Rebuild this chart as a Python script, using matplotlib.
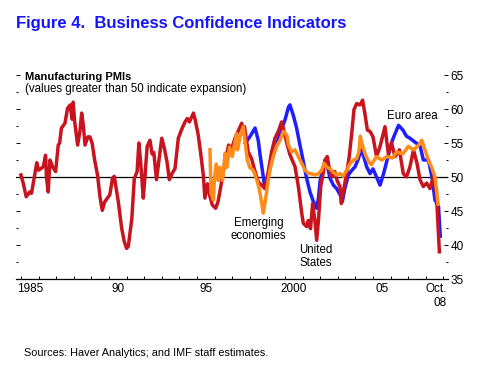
import numpy as np
import matplotlib
matplotlib.use('Agg')
import matplotlib.pyplot as plt
from matplotlib.ticker import FixedLocator

plt.rcParams['font.family'] = ['Liberation Sans', 'DejaVu Sans']

# United States (red)
us_t = [1985.0, 1985.13, 1985.3, 1985.5, 1985.6, 1985.75, 1985.9, 1986.0, 1986.27, 1986.4,
        1986.45, 1986.55, 1986.65, 1986.8, 1986.97, 1987.12, 1987.2, 1987.3, 1987.5, 1987.65,
        1987.8, 1987.9, 1987.97, 1988.05, 1988.22, 1988.35, 1988.45, 1988.55, 1988.64, 1988.8,
        1988.92, 1989.05, 1989.2, 1989.35, 1989.5, 1989.62, 1989.75, 1990.05, 1990.2, 1990.3,
        1990.53, 1990.72, 1990.87, 1991.0, 1991.1, 1991.3, 1991.44, 1991.6, 1991.7, 1991.8,
        1991.95, 1992.05, 1992.17, 1992.33, 1992.45, 1992.55, 1992.7, 1992.85, 1993.0, 1993.15,
        1993.3, 1993.43, 1993.6, 1993.75, 1993.94, 1994.1, 1994.32, 1994.45, 1994.57, 1994.8,
        1994.9, 1995.07, 1995.2, 1995.36, 1995.45, 1995.6, 1995.73, 1995.87, 1996.06, 1996.2,
        1996.4, 1996.6, 1996.8, 1996.97, 1997.16, 1997.35, 1997.54, 1997.6, 1997.7, 1997.91,
        1998.1, 1998.3, 1998.48, 1998.67, 1998.86, 1999.05, 1999.24, 1999.43, 1999.62, 1999.81,
        1999.9, 2000.1, 2000.28, 2000.57, 2000.76, 2000.95, 2001.04, 2001.23, 2001.32, 2001.45,
        2001.57, 2001.7, 2001.8, 2001.9, 2002.03, 2002.18, 2002.27, 2002.4, 2002.5, 2002.65,
        2002.83, 2002.96, 2003.12, 2003.2, 2003.33, 2003.5, 2003.65, 2003.79, 2003.92, 2004.07,
        2004.26, 2004.41, 2004.54, 2004.68, 2004.83, 2005.0, 2005.2, 2005.4, 2005.68, 2005.87,
        2006.05, 2006.25, 2006.5, 2006.72, 2006.9, 2007.1, 2007.3, 2007.5, 2007.67, 2007.86,
        2008.05, 2008.24, 2008.43, 2008.6, 2008.68, 2008.77]
us_v = [50.3, 49.1, 47.1, 47.8, 47.6, 49.8, 52.1, 51.0, 51.5, 53.2,
        50.0, 47.8, 52.5, 51.5, 50.8, 54.7, 55.0, 57.2, 57.9, 60.1,
        60.6, 58.5, 61.0, 58.2, 54.7, 56.7, 59.4, 57.5, 54.7, 55.9,
        55.9, 54.9, 52.3, 50.3, 46.9, 45.1, 46.3, 47.4, 49.8, 50.1,
        46.4, 42.5, 40.5, 39.5, 39.8, 43.9, 49.8, 50.8, 55.0, 52.2,
        46.9, 50.2, 54.5, 55.4, 53.4, 53.6, 49.6, 52.7, 55.7, 54.2,
        52.2, 49.6, 50.6, 51.2, 55.7, 56.8, 58.1, 58.6, 58.1, 59.4,
        58.4, 56.2, 53.7, 50.3, 46.9, 49.0, 47.2, 45.9, 45.4, 46.4,
        49.3, 52.3, 54.7, 54.2, 55.7, 56.8, 57.9, 57.2, 57.4, 53.7,
        52.7, 50.8, 49.3, 48.8, 48.3, 50.8, 53.7, 55.7, 56.7, 58.1,
        57.2, 55.0, 53.3, 51.5, 48.6, 44.7, 43.2, 42.7, 43.6, 42.4,
        46.1, 43.6, 40.7, 43.6, 48.6, 50.7, 52.5, 53.0, 51.5, 50.05,
        50.8, 49.5, 48.6, 46.1, 48.1, 50.5, 53.0, 56.4, 59.9, 60.8,
        60.6, 61.3, 59.3, 56.9, 56.7, 55.9, 53.0, 54.5, 57.4, 53.4,
        55.0, 53.0, 54.0, 50.5, 50.0, 51.5, 54.0, 52.0, 49.6, 48.6,
        49.1, 48.3, 50.0, 47.6, 43.6, 39.0]

# Euro area (blue)
euro_t = [1997.75, 1998.0, 1998.3, 1998.48, 1998.6, 1998.77, 1998.86, 1999.05, 1999.24, 1999.43,
          1999.72, 2000.0, 2000.2, 2000.28, 2000.47, 2000.66, 2000.85, 2001.04, 2001.23, 2001.42,
          2001.61, 2001.8, 2001.9, 2001.99, 2002.1, 2002.27, 2002.42, 2002.56, 2002.75, 2002.93,
          2003.13, 2003.26, 2003.4, 2003.6, 2003.8, 2003.98, 2004.17, 2004.32, 2004.45, 2004.64,
          2004.83, 2005.0, 2005.2, 2005.4, 2005.6, 2005.8, 2006.1, 2006.45, 2006.7, 2006.9,
          2007.1, 2007.3, 2007.5, 2007.68, 2007.86, 2008.15, 2008.35, 2008.52, 2008.72, 2008.82]
euro_v = [55.0, 55.9, 57.2, 55.4, 53.0, 50.0, 48.3, 50.0, 52.5, 54.0,
          56.4, 58.4, 60.3, 60.6, 59.1, 57.2, 54.7, 52.3, 49.8, 47.8,
          46.4, 45.4, 46.9, 49.3, 50.8, 52.3, 51.5, 49.8, 48.8, 48.3,
          47.4, 46.4, 48.3, 50.3, 51.0, 51.5, 52.7, 54.0, 53.2, 51.5,
          50.5, 51.2, 50.0, 48.8, 50.5, 52.5, 55.4, 57.6, 56.9, 56.0,
          55.7, 55.3, 54.9, 54.5, 52.5, 52.5, 50.0, 46.6, 45.7, 41.3]

# Emerging economies (orange)
em_t = [1995.74, 1995.8, 1995.93, 1996.0, 1996.1, 1996.2, 1996.3, 1996.45, 1996.6, 1996.7,
        1996.85, 1997.0, 1997.25, 1997.3, 1997.45, 1997.63, 1997.7, 1997.86, 1998.0, 1998.2,
        1998.4, 1998.55, 1998.68, 1998.77, 1998.86, 1999.0, 1999.14, 1999.33, 1999.52, 1999.72,
        1999.9, 2000.1, 2000.2, 2000.38, 2000.57, 2000.76, 2000.95, 2001.14, 2001.32, 2001.5,
        2001.7, 2001.9, 2002.08, 2002.23, 2002.36, 2002.56, 2002.75, 2002.93, 2003.13, 2003.3,
        2003.5, 2003.7, 2003.9, 2004.07, 2004.2, 2004.28, 2004.36, 2004.55, 2004.74, 2004.9,
        2005.2, 2005.5, 2005.8, 2006.1, 2006.35, 2006.7, 2007.0, 2007.3, 2007.6, 2007.77,
        2007.95, 2008.15, 2008.35, 2008.52, 2008.6, 2008.7]
em_v = [54.0, 47.7, 46.6, 50.0, 51.9, 49.5, 51.4, 49.5, 53.5, 51.4,
        54.4, 53.0, 56.4, 54.0, 55.9, 57.4, 55.9, 52.5, 51.4, 51.0,
        49.6, 48.1, 46.1, 44.7, 46.1, 48.6, 51.0, 53.0, 54.5, 55.4,
        56.7, 56.2, 54.7, 53.7, 54.0, 53.0, 52.0, 51.0, 50.5, 50.5,
        50.3, 50.5, 51.0, 52.0, 51.5, 51.2, 50.7, 50.3, 50.5, 50.1,
        51.0, 52.0, 52.5, 52.7, 53.7, 56.0, 55.0, 53.4, 52.3, 51.8,
        53.0, 52.5, 53.0, 52.8, 53.7, 53.4, 54.5, 54.0, 54.7, 55.4,
        54.0, 52.5, 51.3, 50.0, 48.3, 46.0]

tick_pos = [1985.5, 1990.5, 1995.5, 2000.5, 2005.5, 2009.2]
tick_labels = ['1985', '90', '95', '2000', '05', 'Oct.\n08']

RED = '#C8141E'
BLUE = '#1E1EFF'
ORANGE = '#FF8C1A'

fig = plt.figure(figsize=(4.83, 3.80), dpi=100)
ax = fig.add_axes([16 / 483, 1 - 279 / 380, (448 - 16) / 483, (279 - 75) / 380])

ax.axhline(50, color='black', lw=0.9, zorder=1)
ax.plot(euro_t, euro_v, color=BLUE, lw=2.5, zorder=2)
ax.plot(us_t, us_v, color=RED, lw=2.5, zorder=3)
ax.plot(em_t, em_v, color=ORANGE, lw=2.5, zorder=4)

ax.set_xlim(1984.72, 2009.26)
ax.set_ylim(35, 65)

for s in ['top', 'left', 'right']:
    ax.spines[s].set_visible(False)
ax.spines['bottom'].set_linewidth(0.9)

ax.xaxis.set_major_locator(FixedLocator(tick_pos))
ax.set_xticklabels(tick_labels, fontsize=8.5)
ax.xaxis.set_minor_locator(FixedLocator(np.arange(1985, 2010)))
ax.tick_params(axis='x', which='major', length=0, pad=3)
ax.tick_params(axis='x', which='minor', direction='in', length=2.5, width=0.7)
xl = ax.get_xticklabels()
xl[-1].set_horizontalalignment('right')
xl[-1].set_multialignment('right')

ax.yaxis.tick_right()
ax.set_yticks([35, 40, 45, 50, 55, 60, 65])
ax.set_yticks(np.arange(37.5, 65, 5), minor=True)
ax.tick_params(axis='y', which='major', direction='in', length=3, width=0.7,
               labelsize=8.5, pad=2, left=True, right=True, labelleft=False)
ax.tick_params(axis='y', which='minor', direction='in', length=1.5, width=0.7,
               left=True, right=True)

fig.text(16 / 483, 1 - 28 / 380, 'Figure 4.  Business Confidence Indicators',
         color='#1414FF', fontsize=12, fontweight='bold', va='baseline')
fig.text(25 / 483, 1 - 80 / 380, 'Manufacturing PMIs', fontsize=8,
         fontweight='bold', va='baseline')
fig.text(25 / 483, 1 - 92 / 380, '(values greater than 50 indicate expansion)',
         fontsize=8.3, va='baseline')

ax.text(2007.25, 59.0, 'Euro area', fontsize=8.3, ha='center', va='center')
ax.text(1998.5, 42.25, 'Emerging\neconomies', fontsize=8.3, ha='center', va='center',
        linespacing=1.1)
ax.text(2001.75, 38.3, 'United\nStates', fontsize=8.3, ha='center', va='center',
        linespacing=1.1)

fig.text(24 / 483, 1 - 356 / 380, 'Sources: Haver Analytics; and IMF staff estimates.',
         fontsize=7.8, va='baseline')

fig.savefig('out.png', dpi=100)
